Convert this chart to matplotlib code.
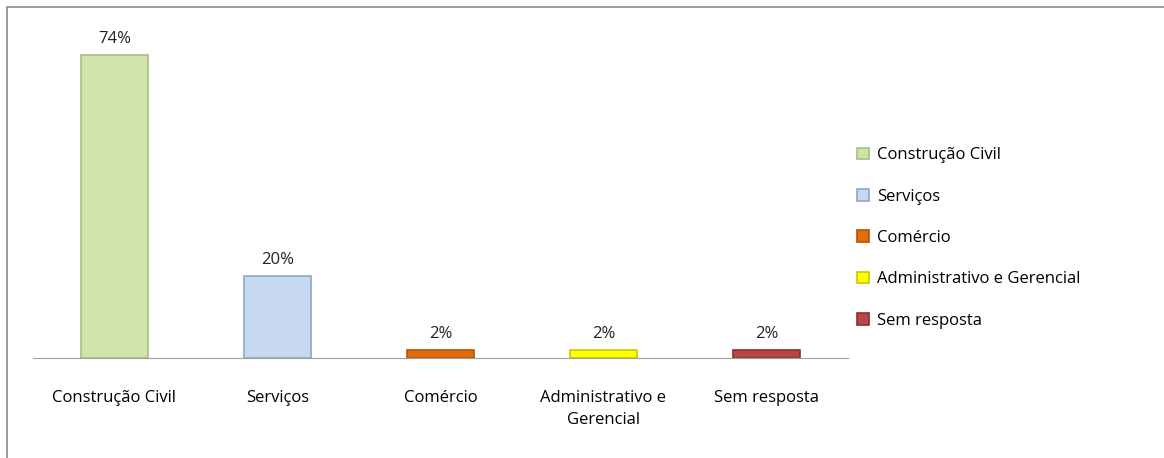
import matplotlib.pyplot as plt
from matplotlib.patches import Rectangle

# dados
categorias = ['Construção Civil', 'Serviços', 'Comércio',
              'Administrativo e Gerencial', 'Sem resposta']
rotulos_x = ['Construção Civil', 'Serviços', 'Comércio',
             'Administrativo e\nGerencial', 'Sem resposta']
valores = [74, 20, 2, 2, 2]
rotulos = ['74%', '20%', '2%', '2%', '2%']

cores = ['#D1E2AA', '#C6D9F1', '#E46C0A', '#FFFF00', '#B94646']
bordas = ['#A9BF7E', '#8EA6C6', '#B45308', '#C8C800', '#8A2E2E']

plt.rcParams['font.family'] = ['Open Sans', 'DejaVu Sans']

fig = plt.figure(figsize=(11.64, 4.58), dpi=100)
# moldura externa (só esquerda e topo ficam visíveis)
fig.patches.append(Rectangle((7 / 1164, -10 / 458), 1170 / 1164, 461 / 458,
                             transform=fig.transFigure, fill=False,
                             edgecolor='#8C8C8C', linewidth=1.2,
                             clip_on=False))

ax = fig.add_axes([33 / 1164, 100 / 458, 815 / 1164, 338 / 458])

x = range(len(valores))
barras = ax.bar(x, valores, width=0.41, color=cores, edgecolor=bordas,
                linewidth=1.2)
for i, b in enumerate(barras):
    b.set_label(categorias[i])
    ax.text(b.get_x() + b.get_width() / 2, valores[i] + 2.0, rotulos[i],
            ha='center', va='bottom', fontsize=12, color='#222222')

ax.set_xlim(-0.5, 4.5)
ax.set_ylim(0, 82.6)
ax.set_xticks(list(x))
ax.set_xticklabels(rotulos_x, fontsize=12, linespacing=1.5)
ax.tick_params(axis='x', length=0, pad=23)
ax.set_yticks([])
for s in ['top', 'right', 'left']:
    ax.spines[s].set_visible(False)
ax.spines['bottom'].set_color('#A0A0A0')

ax.legend(handles=list(barras), loc='center left',
          bbox_to_anchor=(0.993, 0.355), frameon=False, fontsize=12,
          handlelength=0.7, handleheight=0.7, labelspacing=1.52,
          handletextpad=0.5)

plt.savefig('out.png', dpi=100)
